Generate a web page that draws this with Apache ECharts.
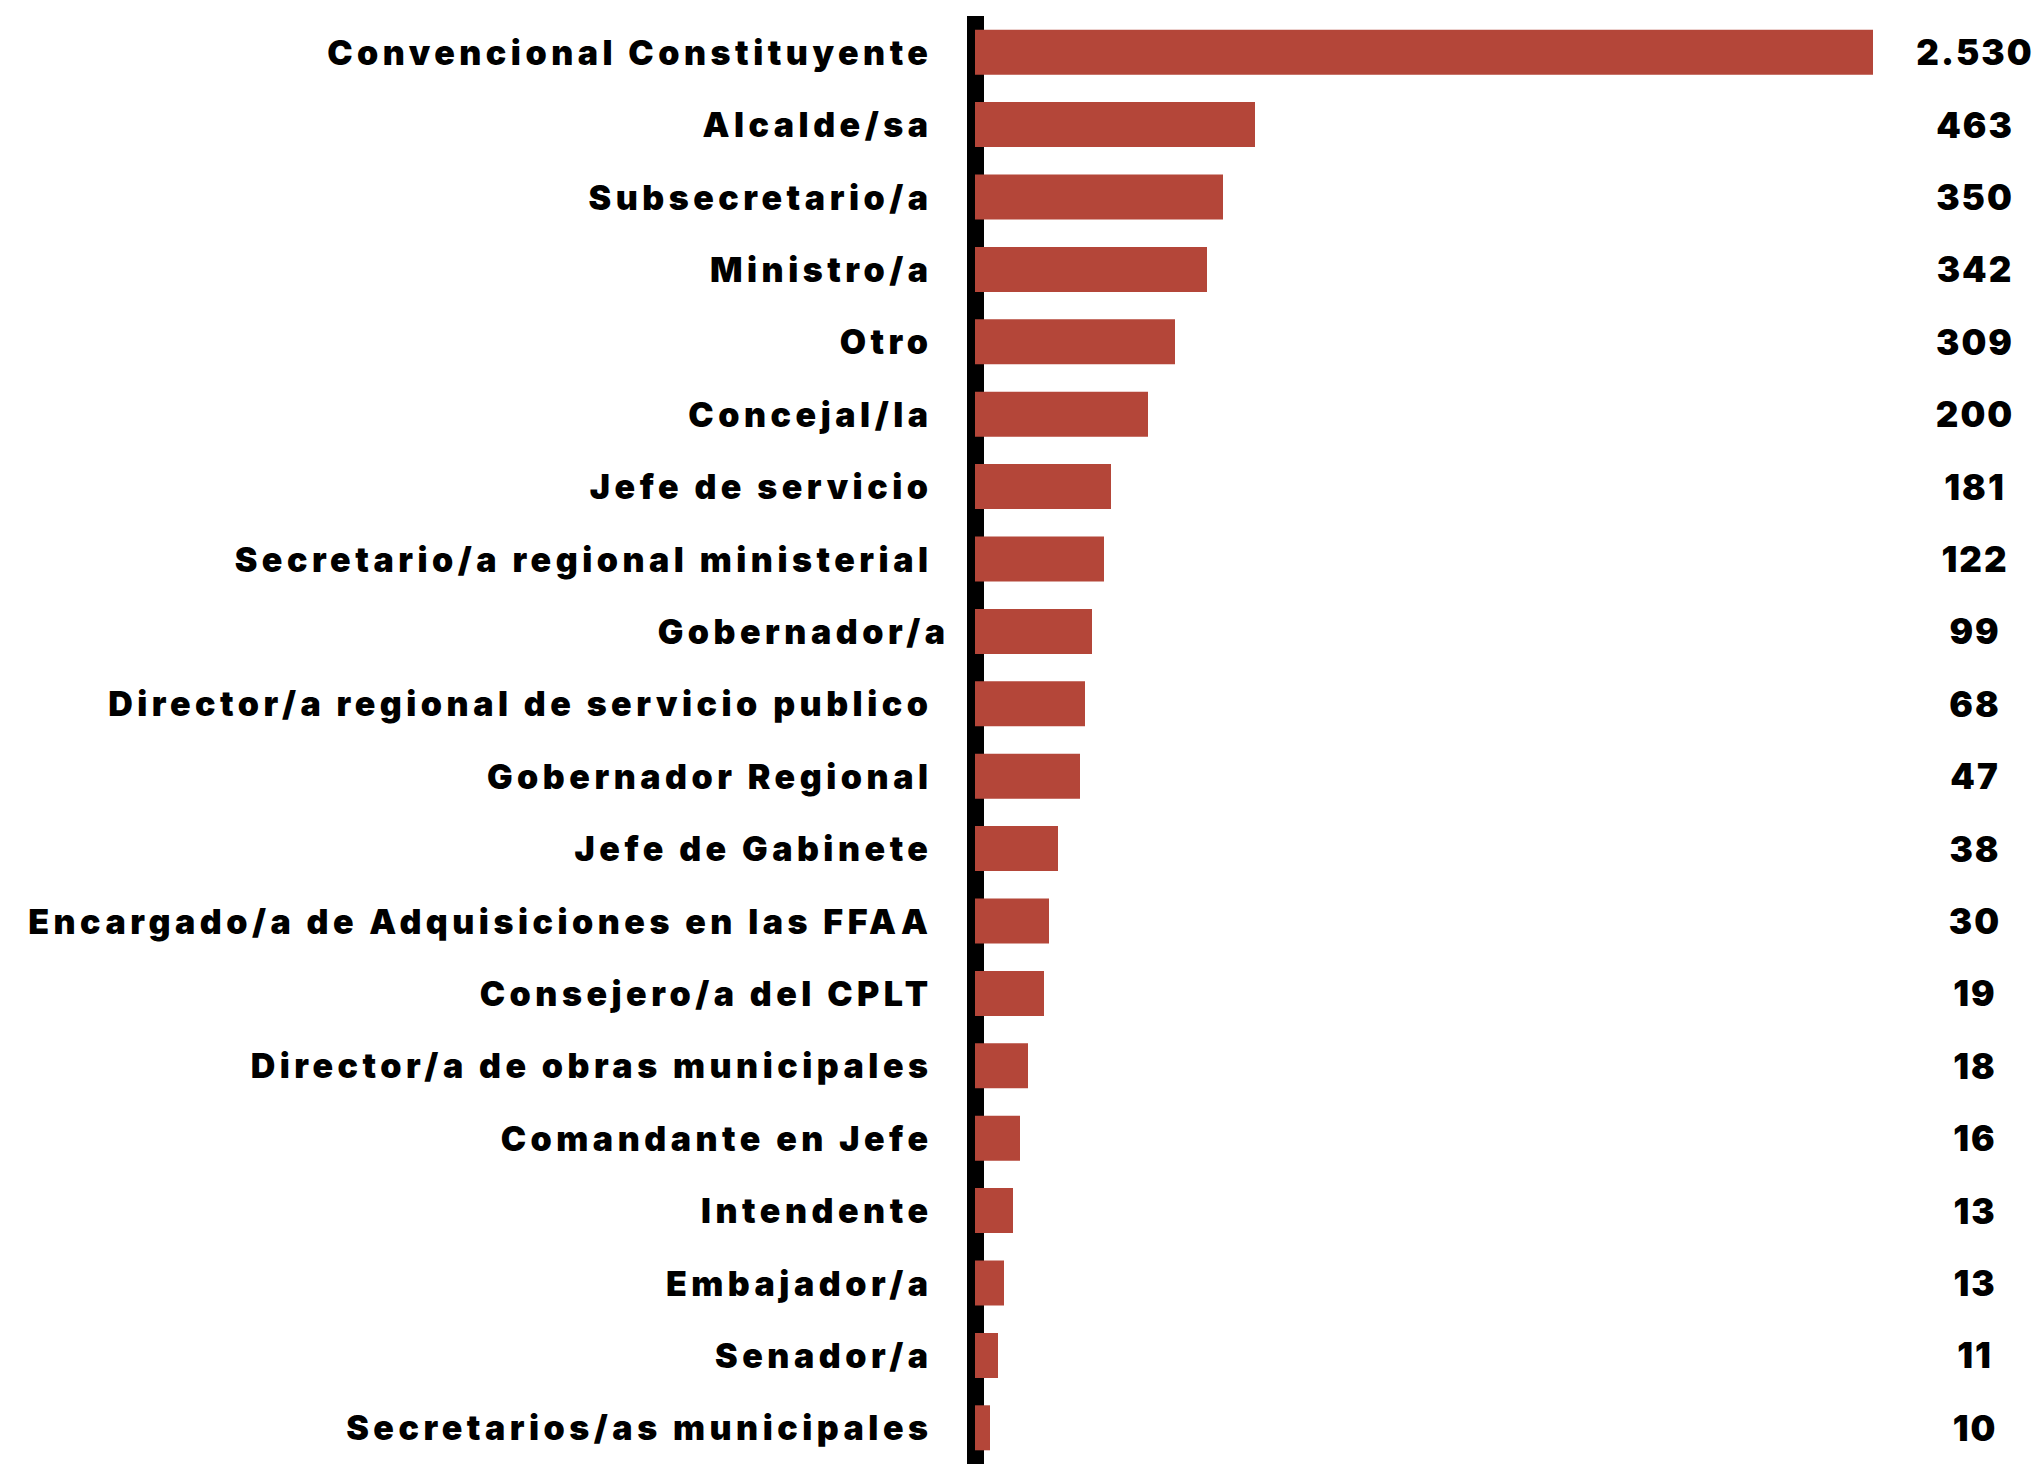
<!DOCTYPE html>
<html>
<head>
    <meta charset="utf-8">
    <title>Cargos</title>
    <script src="https://cdn.jsdelivr.net/npm/echarts@6.0.0/dist/echarts.min.js"></script>
    <style>
        html, body { margin: 0; padding: 0; background: #fff; }
        #main { width: 2033px; height: 1465px; }
        /* the labels in the original are letter-spaced */
        #main text { letter-spacing: 4.5px; }
        #main text[style*="35px"] { letter-spacing: 2px; }
    </style>
</head>
<body>
    <div id="main"></div>
    <script type="text/javascript">
        // categories, top to bottom
        var cargos = [
            'Convencional Constituyente', 'Alcalde/sa', 'Subsecretario/a', 'Ministro/a', 'Otro',
            'Concejal/la', 'Jefe de servicio', 'Secretario/a regional ministerial', 'Gobernador/a',
            'Director/a regional de servicio publico', 'Gobernador Regional', 'Jefe de Gabinete',
            'Encargado/a de Adquisiciones en las FFAA', 'Consejero/a del CPLT',
            'Director/a de obras municipales', 'Comandante en Jefe', 'Intendente', 'Embajador/a',
            'Senador/a', 'Secretarios/as municipales'
        ];
        // printed values
        var valores = [2530, 463, 350, 342, 309, 200, 181, 122, 99, 68, 47, 38, 30, 19, 18, 16, 13, 13, 11, 10];
        // bar lengths as drawn in the original (not proportional to the values), scale 0-1000
        var largoBarra = [898, 280, 248, 232, 200, 173, 136, 129, 117, 110, 105, 83, 74, 69, 53, 45, 38, 29, 23, 15];

        function fmt(n) {
            return String(n).replace(/\B(?=(\d{3})+(?!\d))/g, '.');
        }

        var fuente = 'Inter, "Noto Sans", "DejaVu Sans", sans-serif';

        var yData = cargos.map(function (c) {
            // "Gobernador/a" sits a bit further right in the original
            if (c === 'Gobernador/a') return { value: c, textStyle: { padding: [0, 0, 0, 0] } };
            return c;
        });

        var myChart = echarts.init(document.getElementById('main'), null, { renderer: 'svg' });
        var option = {
            animation: false,
            grid: { left: 975, right: 58, top: 16, bottom: 1, containLabel: false },
            xAxis: { type: 'value', min: 0, max: 1000, show: false },
            yAxis: [{
                type: 'category',
                inverse: true,
                position: 'left',
                offset: 8.5,
                data: yData,
                axisLine: { show: true, lineStyle: { color: '#000', width: 17, cap: 'butt' } },
                axisTick: { show: false },
                splitLine: { show: false },
                axisLabel: {
                    margin: 17,
                    padding: [0, 17, 0, 0],
                    color: '#000',
                    fontFamily: fuente,
                    fontWeight: 900,
                    fontSize: 34,
                    interval: 0
                }
            }, {
                type: 'category',
                inverse: true,
                position: 'right',
                data: valores.map(fmt),
                axisLine: { show: false },
                axisTick: { show: false },
                splitLine: { show: false },
                axisLabel: {
                    margin: 0,
                    align: 'center',
                    color: '#000',
                    fontFamily: fuente,
                    fontWeight: 900,
                    fontSize: 35,
                    interval: 0
                }
            }],
            series: [{
                type: 'bar',
                yAxisIndex: 0,
                data: largoBarra,
                barWidth: 45,
                itemStyle: { color: '#b44639' },
                z: 3
            }]
        };
        myChart.setOption(option);
    </script>
</body>
</html>
